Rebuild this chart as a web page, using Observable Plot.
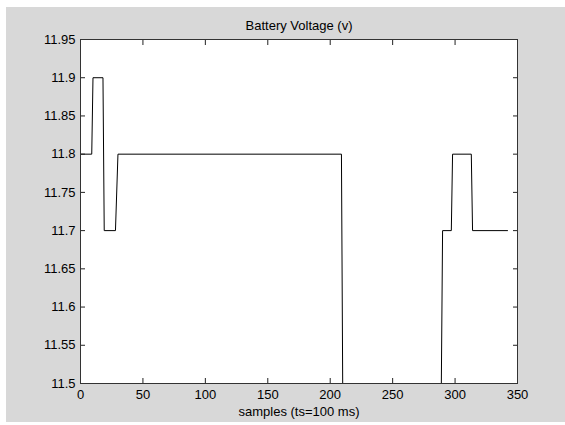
<!DOCTYPE html>
<html>
<head>
<meta charset="utf-8">
<script src="https://cdn.jsdelivr.net/npm/d3@7"></script>
<script src="https://cdn.jsdelivr.net/npm/@observablehq/plot@0.6"></script>
<style>
  html, body { margin: 0; padding: 0; background: #ffffff; }
  #panel { position: absolute; left: 6px; top: 7px; width: 559px; height: 415px; background: #d8d8d8; }
</style>
</head>
<body>
<div id="panel"></div>
<script>
const titleText = "Battery Voltage (v)";
const xLabelText = "samples (ts=100 ms)";
const sampleIdx = [0, 9, 10, 18, 19, 28, 30, 209, 210, 289, 290, 297, 298, 313, 314, 342];
const voltage   = [11.8, 11.8, 11.9, 11.9, 11.7, 11.7, 11.8, 11.8, 11.5, 11.5, 11.7, 11.7, 11.8, 11.8, 11.7, 11.7];
const xTicks = [0, 50, 100, 150, 200, 250, 300, 350];
const yTicks = [11.5, 11.55, 11.6, 11.65, 11.7, 11.75, 11.8, 11.85, 11.9, 11.95];
const yTickLabels = ["11.5", "11.55", "11.6", "11.65", "11.7", "11.75", "11.8", "11.85", "11.9", "11.95"];

const data = sampleIdx.map((x, i) => ({x, y: voltage[i]}));
const yFmt = v => yTickLabels[yTicks.findIndex(t => Math.abs(t - v) < 1e-9)];

const chart = Plot.plot({
  width: 559,
  height: 415,
  marginLeft: 74,
  marginRight: 48,
  marginTop: 32,
  marginBottom: 39,
  style: {fontFamily: "'Liberation Sans', Arial, sans-serif", fontSize: "13px", background: "transparent", color: "#000"},
  x: {domain: [0, 350], label: null},
  y: {domain: [11.5, 11.95], label: null},
  marks: [
    Plot.frame({fill: "white", stroke: null}),
    Plot.line(data, {x: "x", y: "y", stroke: "black", strokeWidth: 1}),
    Plot.axisX(xTicks, {anchor: "bottom", tickSize: -5, tickPadding: 11, label: null, stroke: "#222"}),
    Plot.axisX(xTicks, {anchor: "top", tickSize: -5, tickFormat: () => "", label: null, stroke: "#222"}),
    Plot.axisY(yTicks, {anchor: "left", tickSize: -5, tickPadding: 10, tickFormat: yFmt, label: null, stroke: "#222"}),
    Plot.axisY(yTicks, {anchor: "right", tickSize: -5, tickFormat: () => "", label: null, stroke: "#222"}),
    Plot.frame({stroke: "#333", strokeWidth: 1}),
    Plot.text([titleText], {frameAnchor: "top", lineAnchor: "bottom", dy: -9.5, fill: "black", fontSize: 13}),
    Plot.text([xLabelText], {frameAnchor: "bottom", lineAnchor: "bottom", dy: 32, fill: "black", fontSize: 13})
  ]
});
document.getElementById("panel").appendChild(chart);
</script>
</body>
</html>
